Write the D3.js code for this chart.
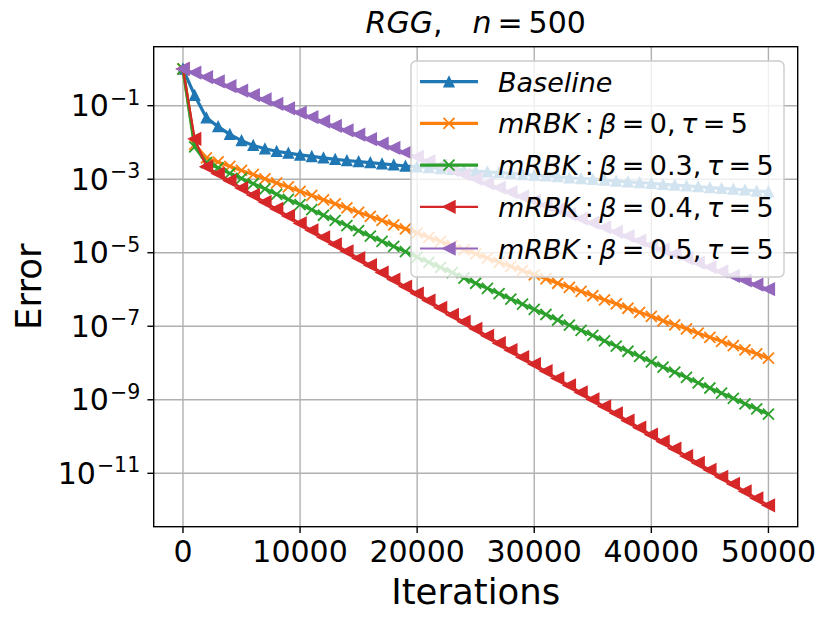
<!DOCTYPE html>
<html>
<head>
<meta charset="utf-8">
<script src="https://cdn.jsdelivr.net/npm/d3@7"></script>
<style>
  body { margin: 0; background: #fff; }
  text { font-family: "DejaVu Sans", sans-serif; fill: #000; }
</style>
</head>
<body>
<div class="container"></div>
<script>
let width = 830
let height = 624

// iterations (x) and log10 of the error for each series
const iterations = [0,1000,2000,3000,4000,5000,6000,7000,8000,9000,10000,
  11000,12000,13000,14000,15000,16000,17000,18000,19000,20000,
  21000,22000,23000,24000,25000,26000,27000,28000,29000,30000,
  31000,32000,33000,34000,35000,36000,37000,38000,39000,40000,
  41000,42000,43000,44000,45000,46000,47000,48000,49000,50000]

const baselineLog = [0,-0.72,-1.33,-1.57,-1.78,-1.95,-2.08,-2.17,-2.24,-2.29,-2.34,
  -2.38,-2.42,-2.46,-2.49,-2.52,-2.55,-2.58,-2.61,-2.64,-2.66,
  -2.68,-2.71,-2.73,-2.75,-2.78,-2.80,-2.82,-2.84,-2.87,-2.89,
  -2.91,-2.93,-2.96,-2.98,-3.00,-3.02,-3.05,-3.07,-3.09,-3.11,
  -3.14,-3.16,-3.18,-3.20,-3.23,-3.25,-3.27,-3.29,-3.32,-3.34]

const beta0Log = [0,-2.05,-2.42,-2.53,-2.65,-2.76,-2.87,-2.99,-3.10,-3.21,-3.33,
  -3.44,-3.56,-3.67,-3.78,-3.90,-4.01,-4.12,-4.24,-4.35,-4.46,
  -4.58,-4.69,-4.80,-4.92,-5.03,-5.14,-5.26,-5.37,-5.48,-5.60,
  -5.71,-5.83,-5.94,-6.05,-6.17,-6.28,-6.39,-6.51,-6.62,-6.73,
  -6.85,-6.96,-7.07,-7.19,-7.30,-7.41,-7.53,-7.64,-7.75,-7.87]

const beta03Log = [0,-2.12,-2.55,-2.69,-2.84,-2.98,-3.12,-3.26,-3.41,-3.55,-3.69,
  -3.83,-3.98,-4.12,-4.26,-4.40,-4.55,-4.69,-4.83,-4.97,-5.12,
  -5.26,-5.40,-5.54,-5.69,-5.83,-5.97,-6.11,-6.26,-6.40,-6.54,
  -6.68,-6.83,-6.97,-7.11,-7.25,-7.40,-7.54,-7.68,-7.82,-7.97,
  -8.11,-8.25,-8.39,-8.54,-8.68,-8.82,-8.96,-9.11,-9.25,-9.39]

const beta04Log = [0,-1.90,-2.66,-2.85,-3.04,-3.24,-3.43,-3.62,-3.81,-4.00,-4.20,
  -4.39,-4.58,-4.77,-4.96,-5.15,-5.34,-5.54,-5.73,-5.92,-6.11,
  -6.30,-6.50,-6.69,-6.88,-7.07,-7.26,-7.46,-7.65,-7.84,-8.03,
  -8.22,-8.42,-8.61,-8.80,-8.99,-9.18,-9.37,-9.57,-9.76,-9.95,
  -10.14,-10.33,-10.53,-10.72,-10.91,-11.10,-11.29,-11.49,-11.68,-11.87]

const beta05Log = [0,-0.10,-0.22,-0.34,-0.47,-0.59,-0.71,-0.83,-0.95,-1.07,-1.19,
  -1.31,-1.43,-1.55,-1.67,-1.79,-1.91,-2.03,-2.15,-2.27,-2.39,
  -2.51,-2.63,-2.75,-2.87,-2.99,-3.11,-3.23,-3.35,-3.47,-3.59,
  -3.71,-3.83,-3.95,-4.07,-4.19,-4.31,-4.43,-4.55,-4.67,-4.79,
  -4.91,-5.03,-5.15,-5.27,-5.39,-5.51,-5.63,-5.75,-5.87,-5.99]

const betaLabels = [null, "0", "0.3", "0.4", "0.5"]
const tauLabel = "5"
const xTicks = [0, 10000, 20000, 30000, 40000, 50000]
const yTickExps = [-11, -9, -7, -5, -3, -1]

const series = [
  { name: "baseline", logs: baselineLog, color: "#1f77b4", marker: "up", lw: 3.2 },
  { name: "b0", logs: beta0Log, color: "#ff7f0e", marker: "x", lw: 3.2 },
  { name: "b03", logs: beta03Log, color: "#2ca02c", marker: "x", lw: 3.2 },
  { name: "b04", logs: beta04Log, color: "#d62728", marker: "left", lw: 2.2 },
  { name: "b05", logs: beta05Log, color: "#9467bd", marker: "left", lw: 2.2 }
]

let plotLeft = 153.7, plotRight = 797.7, plotTop = 46.7, plotBottom = 526.7

let x = d3.scaleLinear().domain([-2500, 52500]).range([plotLeft, plotRight])
let y = d3.scaleLog().domain([Math.pow(10, 0.605), Math.pow(10, -12.453)]).range([plotTop, plotBottom])

let svg = d3.select(".container")
  .append("svg")
  .attr("width", width)
  .attr("height", height)

function markerPath(type) {
  if (type == "up") return "M0,-5L5,5L-5,5Z"
  if (type == "left") return "M-6,0L6,-6L6,6Z"
  return "M-5.5,-5.5L5.5,5.5M-5.5,5.5L5.5,-5.5"
}

function drawMarker(g, type, color) {
  let p = g.append("path").attr("d", markerPath(type))
  if (type == "x") {
    p.attr("fill", "none").attr("stroke", color).attr("stroke-width", 1.8)
  } else {
    p.attr("fill", color).attr("stroke", color).attr("stroke-width", 1.4).attr("stroke-linejoin", "miter")
  }
  return p
}

// grid
svg.append("g").selectAll("line")
  .data(xTicks)
  .enter()
  .append("line")
  .attr("x1", d => x(d)).attr("x2", d => x(d))
  .attr("y1", plotTop).attr("y2", plotBottom)
  .attr("stroke", "#b0b0b0").attr("stroke-width", 1.4)

svg.append("g").selectAll("line")
  .data(yTickExps)
  .enter()
  .append("line")
  .attr("x1", plotLeft).attr("x2", plotRight)
  .attr("y1", d => y(Math.pow(10, d))).attr("y2", d => y(Math.pow(10, d)))
  .attr("stroke", "#b0b0b0").attr("stroke-width", 1.4)

// series
let line = d3.line()
  .x((d, i) => x(iterations[i]))
  .y(d => y(Math.pow(10, d)))

series.forEach(function (s) {
  let g = svg.append("g").attr("class", "series-" + s.name)
  g.append("path")
    .datum(s.logs)
    .attr("d", line)
    .attr("fill", "none")
    .attr("stroke", s.color)
    .attr("stroke-width", s.lw)
    .attr("stroke-linejoin", "round")
  g.selectAll(".mk")
    .data(s.logs)
    .enter()
    .append("g")
    .attr("class", "mk")
    .attr("transform", (d, i) => "translate(" + x(iterations[i]) + "," + y(Math.pow(10, d)) + ")")
    .each(function () { drawMarker(d3.select(this), s.marker, s.color) })
})

// spines
svg.append("rect")
  .attr("x", plotLeft).attr("y", plotTop)
  .attr("width", plotRight - plotLeft).attr("height", plotBottom - plotTop)
  .attr("fill", "none").attr("stroke", "#000").attr("stroke-width", 1.4)

// x ticks
let xt = svg.append("g").selectAll("g")
  .data(xTicks)
  .enter()
  .append("g")
  .attr("transform", d => "translate(" + x(d) + "," + plotBottom + ")")
xt.append("line").attr("y1", 0).attr("y2", 6.3).attr("stroke", "#000").attr("stroke-width", 1.4)
xt.append("text")
  .attr("y", 35)
  .attr("text-anchor", "middle")
  .attr("font-size", "30px")
  .text(d => d)

// y ticks
let yt = svg.append("g").selectAll("g")
  .data(yTickExps)
  .enter()
  .append("g")
  .attr("transform", d => "translate(" + plotLeft + "," + y(Math.pow(10, d)) + ")")
yt.append("line").attr("x1", 0).attr("x2", -6.3).attr("stroke", "#000").attr("stroke-width", 1.4)
let ytText = yt.append("text")
  .attr("x", -13.5)
  .attr("y", 10.6)
  .attr("text-anchor", "end")
  .attr("font-size", "30px")
ytText.append("tspan").text("10")
ytText.append("tspan")
  .attr("dx", 1)
  .attr("dy", -11.5)
  .attr("font-size", "20.5px")
  .text(d => "\u2212" + Math.abs(d))

// axis labels and title
svg.append("text")
  .attr("x", (plotLeft + plotRight) / 2)
  .attr("y", 603.5)
  .attr("text-anchor", "middle")
  .attr("font-size", "35.5px")
  .text("Iterations")

svg.append("text")
  .attr("transform", "translate(40.5," + (plotTop + plotBottom) / 2 + ") rotate(-90)")
  .attr("text-anchor", "middle")
  .attr("font-size", "35.5px")
  .text("Error")

let title = svg.append("text")
  .attr("x", (plotLeft + plotRight) / 2)
  .attr("y", 33)
  .attr("text-anchor", "middle")
  .attr("font-size", "30px")
title.append("tspan").attr("font-style", "italic").text("RGG")
title.append("tspan").text(",")
title.append("tspan").attr("dx", 30).attr("font-style", "italic").text("n")
title.append("tspan").text("\u2009=\u2009500")

// legend
let legend = svg.append("g").attr("transform", "translate(411,61)")
legend.append("rect")
  .attr("width", 373).attr("height", 216)
  .attr("rx", 5)
  .attr("fill", "#fff").attr("fill-opacity", 0.8)
  .attr("stroke", "#cccccc").attr("stroke-width", 1.4)

let rows = legend.selectAll(".row")
  .data(series)
  .enter()
  .append("g")
  .attr("class", "row")
  .attr("transform", (d, i) => "translate(0," + (20.7 + i * 41.7) + ")")

rows.append("line")
  .attr("x1", 9).attr("x2", 67)
  .attr("stroke", d => d.color)
  .attr("stroke-width", d => d.lw)
rows.append("g")
  .attr("transform", "translate(38,0)")
  .each(function (d) { drawMarker(d3.select(this), d.marker, d.color) })

let labels = rows.append("text")
  .attr("x", 87)
  .attr("y", 10)
  .attr("font-size", "27px")

labels.each(function (d, i) {
  let t = d3.select(this)
  if (betaLabels[i] == null) {
    t.append("tspan").attr("font-style", "italic").text("Baseline")
  } else {
    t.append("tspan").attr("font-style", "italic").text("mRBK")
    t.append("tspan").text("\u2009:\u2009")
    t.append("tspan").attr("font-style", "italic").text("\u03b2")
    t.append("tspan").text("\u2009=\u2009" + betaLabels[i] + ",\u2009")
    t.append("tspan").attr("font-style", "italic").text("\u03c4")
    t.append("tspan").text("\u2009=\u2009" + tauLabel)
  }
})
</script>
</body>
</html>
